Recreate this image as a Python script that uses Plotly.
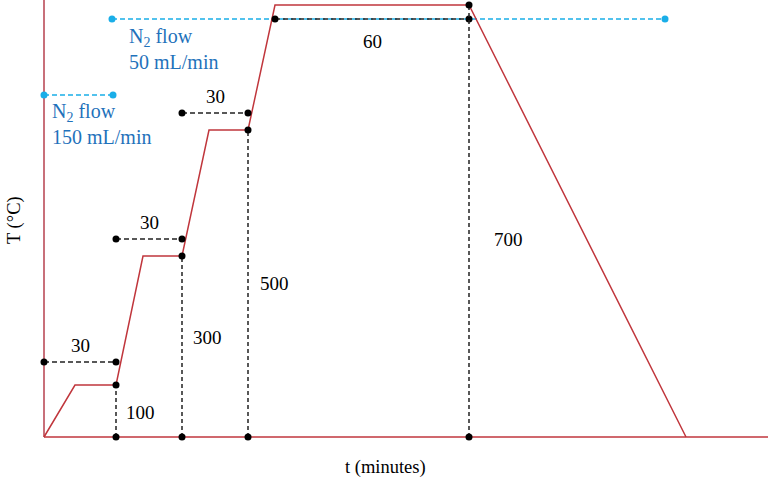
import plotly.graph_objects as go

# schematic units: t to the right of the T axis, T above the t axis
profile_t = [0, 31, 72, 99, 138, 165, 204, 231, 425, 642]
profile_T = [0, 52, 52, 181, 181, 307, 307, 432, 432, 0]

hold_start = [0, 72, 138, 231]
hold_end = [72, 138, 204, 425]
hold_level = [75, 198, 324, 418]
hold_labels = ["30", "30", "30", "60"]
hold_label_above = [True, True, True, False]

step_t = [72, 138, 204, 425]
step_T = [52, 181, 307, 432]
step_labels = ["100", "300", "500", "700"]
step_label_t = [96, 163, 230, 464]
step_label_T = [25, 100, 154, 198]

flow_start = [0, 68]
flow_end = [69, 621]
flow_level = [342, 418]
flow_labels = ["N<sub>2</sub> flow<br>150 mL/min", "N<sub>2</sub> flow<br>50 mL/min"]
flow_label_t = [6, 83]
flow_label_T = [313, 388]

RED = "#c0363c"
AXIS_L = "#c8707a"
DASH = "#222222"
BLUE_DOT = "#1aaee8"
BLUE_TXT = "#1f72bb"
FONT = "Liberation Serif, Times New Roman, serif"

fig = go.Figure()

# axes drawn as plain lines
fig.add_trace(go.Scatter(x=[0, 0], y=[0, 437], mode="lines",
                         line=dict(color=AXIS_L, width=2), hoverinfo="skip"))
fig.add_trace(go.Scatter(x=[0, 724], y=[0, 0], mode="lines",
                         line=dict(color=RED, width=1.5), hoverinfo="skip"))

# N2 flow markers
for s, e, lv in zip(flow_start, flow_end, flow_level):
    fig.add_trace(go.Scatter(
        x=[s, e], y=[lv, lv], mode="lines+markers",
        line=dict(color=BLUE_DOT, width=1.3, dash="5px,3px"),
        marker=dict(color=BLUE_DOT, size=7), hoverinfo="skip"))

# temperature profile
fig.add_trace(go.Scatter(x=profile_t, y=profile_T, mode="lines",
                         line=dict(color=RED, width=1.5), hoverinfo="skip"))

# hold durations
for s, e, lv in zip(hold_start, hold_end, hold_level):
    fig.add_trace(go.Scatter(
        x=[s, e], y=[lv, lv], mode="lines+markers",
        line=dict(color=DASH, width=1.3, dash="5px,3px"),
        marker=dict(color="black", size=7), hoverinfo="skip"))

# setpoint drop lines
for t, T in zip(step_t, step_T):
    fig.add_trace(go.Scatter(
        x=[t, t], y=[0, T], mode="lines+markers",
        line=dict(color=DASH, width=1.5, dash="4px,3px"),
        marker=dict(color="black", size=7), hoverinfo="skip"))

for s, e, lv, txt, above in zip(hold_start, hold_end, hold_level, hold_labels, hold_label_above):
    fig.add_annotation(x=(s + e) / 2, y=lv, text=txt, showarrow=False,
                       yshift=17 if above else -22,
                       font=dict(family=FONT, size=19, color="black"))

for t, T, txt in zip(step_label_t, step_label_T, step_labels):
    fig.add_annotation(x=t, y=T, text=txt, showarrow=False,
                       font=dict(family=FONT, size=19, color="black"))

for t, T, txt in zip(flow_label_t, flow_label_T, flow_labels):
    fig.add_annotation(x=t, y=T, text=txt, showarrow=False, xanchor="left",
                       align="left",
                       font=dict(family=FONT, size=20, color=BLUE_TXT))

fig.add_annotation(x=-30, y=217, text="T (°C)", showarrow=False, textangle=-90,
                   font=dict(family=FONT, size=18.5, color="black"))
fig.add_annotation(x=341, y=-30, text="t (minutes)", showarrow=False,
                   font=dict(family=FONT, size=18.5, color="black"))

fig.update_layout(
    width=768, height=483,
    margin=dict(l=0, r=0, t=0, b=0),
    showlegend=False,
    plot_bgcolor="white", paper_bgcolor="white",
)
fig.update_xaxes(range=[-44, 724], visible=False, fixedrange=True)
fig.update_yaxes(range=[-46, 437], visible=False, fixedrange=True)

# drop the default 8px page margin so the figure sits at the window corner
fig.write_html("out.html", config={"displayModeBar": False},
               post_script="document.body.style.margin = '0';")
